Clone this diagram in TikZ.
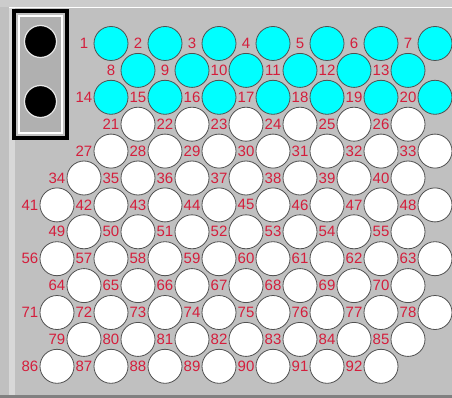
\documentclass[tikz,border=0pt]{standalone}
\usepackage{fontspec}
\setmainfont{Liberation Sans}
\usepackage{tikz}
\definecolor{grisfondo}{HTML}{C0C0C0}
\definecolor{grisclaro}{HTML}{D8D8D8}
\definecolor{grisoscuro}{HTML}{808080}
\definecolor{grisborde}{HTML}{505050}
\definecolor{grismarco}{HTML}{B0B0B0}
\definecolor{cianpozo}{HTML}{00FFFF}
\definecolor{rojonumero}{HTML}{D41E3C}

\begin{document}
\begin{tikzpicture}[
    x=1pt, y=-1pt,
    pozo/.style={circle, draw=grisborde, line width=0.8pt, minimum size=34pt,
      inner sep=0pt},
    numero/.style={text=rojonumero, inner sep=0pt, font=\fontsize{15}{15}\selectfont},
    marco/.style={draw=black, line width=4pt, minimum width=53pt,
      minimum height=127pt, inner sep=0pt},
    panel/.style={draw=white, fill=grismarco, line width=1.5pt, minimum width=43pt,
      minimum height=117pt, inner sep=0pt},
    boton/.style={circle, draw=grisclaro!60!white, fill=black, line width=1.2pt,
      minimum size=32pt, inner sep=0pt}
  ]
    \useasboundingbox (0,0) rectangle (452,398);
    % fondo de la placa
    \fill[grisfondo] (0,0) rectangle (452,398);
    \fill[grisclaro!50!grisfondo] (0,0) rectangle (452,7);
    \fill[grisclaro] (9,7) rectangle (15,395);
    \draw[white, line width=1pt] (9,7.5) -- (452,7.5);
    \fill[grisoscuro] (0,395) rectangle (452,398);

    % botones de la izquierda
    \node[marco] (caja) at (40.5,74.5) {};
    \node[panel] (interior) at (40.5,74.5) {};
    \node[boton] (arriba) at (40.5,41.5) {};
    \node[boton] (abajo) at (40.5,101.5) {};

    % pozos numerados
    \foreach \fila/\xini/\cant/\primero in {0/111/7/1, 1/138/6/8, 2/111/7/14,
        3/138/6/21, 4/111/7/27, 5/84/7/34, 6/57/8/41, 7/84/7/49, 8/57/8/56,
        9/84/7/64, 10/57/8/71, 11/84/7/79, 12/57/7/86}{
      \foreach \k in {1,...,\cant}{
        \pgfmathtruncatemacro{\num}{\primero+\k-1}
        \pgfmathsetmacro{\px}{\xini+54*(\k-1)}
        \pgfmathsetmacro{\py}{43.5+26.9*\fila}
        \ifnum\num<21 \def\relleno{cianpozo}\else\def\relleno{white}\fi
        \node[pozo, fill=\relleno] (p\num) at (\px,\py) {};
        \node[numero] (n\num) at (\px-27,\py) {\num};
      }
    }
  \end{tikzpicture}
\end{document}
